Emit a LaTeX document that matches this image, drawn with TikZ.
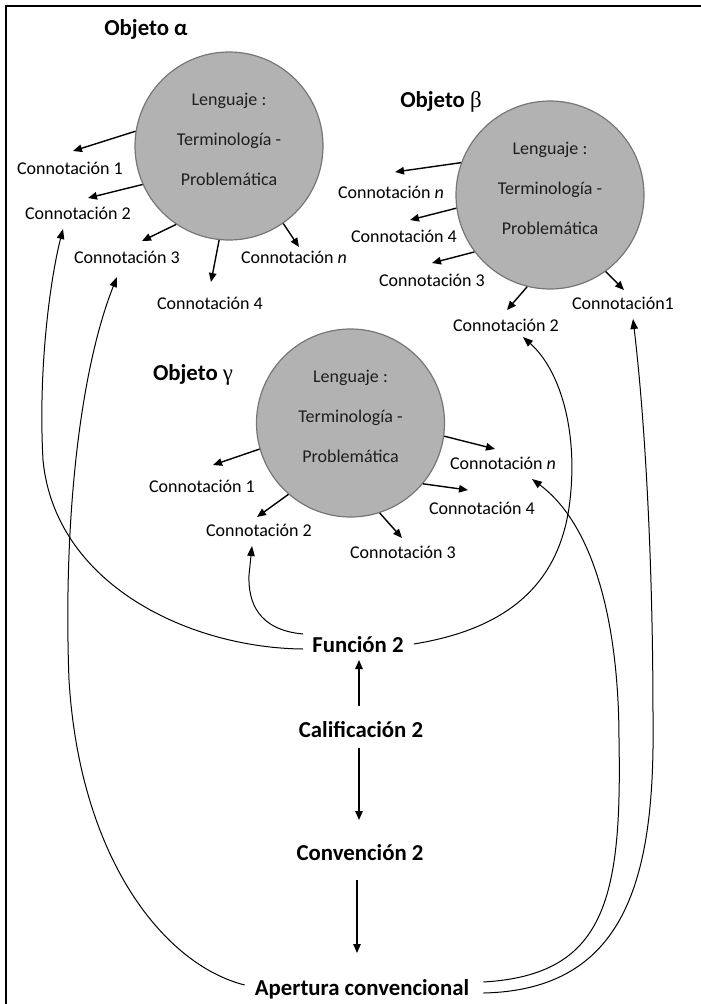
\documentclass[tikz,border=0pt]{standalone}
\usepackage{fontspec}
\setmainfont{Carlito}
\newfontfamily\greekserif{Liberation Serif}
\usetikzlibrary{arrows.meta,calc}
\definecolor{circfill}{RGB}{178,178,178}
\definecolor{circedge}{RGB}{118,118,118}
\definecolor{circtext}{RGB}{30,30,30}
\newcommand{\circtxt}{Lenguaje :\\Terminología -\\Problemática\\[-26pt]\mbox{}}
\begin{document}
\begin{tikzpicture}[x=1pt,y=-1pt,
  lbl/.style={font=\fontsize{18}{22}\selectfont, inner sep=0pt, anchor=base},
  ttl/.style={font=\fontsize{22.8}{27}\selectfont\bfseries, inner sep=0pt, anchor=base},
  obj/.style={circle, minimum size=188pt, inner sep=0pt, draw=circedge, line width=1.2pt,
    fill=circfill, text=circtext, align=center, font=\fontsize{18}{40}\selectfont},
  arr/.style={-{Triangle[length=9pt,width=7.5pt]}, line width=1.4pt},
  lng/.style={-{Triangle[length=10pt,width=7.5pt]}, line width=1pt},
  frame/.style={line width=1.5pt}
]
\useasboundingbox (0,0) rectangle (701,1004);
% frame
\coordinate (fTL) at (6,6);
\coordinate (fTR) at (701,6);
\coordinate (fBL) at (6,1004);
\draw[frame] (fTR) -- (fTL) -- (fBL);

% ---------- Objeto alpha ----------
\node[ttl] (ta) at (146,35) {Objeto α};
\node[obj] (ca) at (229,146) {\circtxt};
\node[lbl] (A1) at (70,174) {Connotación 1};
\node[lbl] (A2) at (78,219) {Connotación 2};
\node[lbl] (A3) at (127,263) {Connotación 3};
\node[lbl] (A4) at (210,309) {Connotación 4};
\node[lbl] (An) at (294,263) {Connotación \textit{n}};
\draw[arr] (ca.171.5) -- ([shift={(3,-23)}]A1.base);
\draw[arr] (ca.204.9) -- ([shift={(10,-21)}]A2.base);
\draw[arr] (ca.236.8) -- ([shift={(15,-22)}]A3.base);
\draw[arr] (ca.264.5) -- ([shift={(1,-27)}]A4.base);
\draw[arr] (ca.305.5) -- ([shift={(5,-16)}]An.base);

% ---------- Objeto beta ----------
\node[ttl] (tb) at (441,107) {Objeto {\greekserif\mdseries β}};
\node[obj] (cb) at (550,195) {\circtxt};
\node[lbl] (Bn) at (391,198) {Connotación \textit{n}};
\node[lbl] (B4) at (404,242) {Connotación 4};
\node[lbl] (B3) at (432,286) {Connotación 3};
\node[lbl] (B2) at (506,331) {Connotación 2};
\node[lbl] (B1) at (623,309) {Connotación1};
\draw[arr] (cb.160.8) -- ([shift={(4,-26)}]Bn.base);
\draw[arr] (cb.188.6) -- ([shift={(6,-22)}]B4.base);
\draw[arr] (cb.217.8) -- ([shift={(0,-23)}]B3.base);
\draw[arr] (cb.256.7) -- ([shift={(1,-21)}]B2.base);
\draw[arr] (cb.306.5) -- ([shift={(1,-19)}]B1.base);

% ---------- Objeto gamma ----------
\node[ttl] (tg) at (193,380) {Objeto {\greekserif\mdseries γ}};
\node[obj] (cg) at (350.5,423) {\circtxt};
\node[lbl] (G1) at (202,492) {Connotación 1};
\node[lbl] (G2) at (259,536) {Connotación 2};
\node[lbl] (G3) at (403,558) {Connotación 3};
\node[lbl] (G4) at (482,514) {Connotación 4};
\node[lbl] (Gn) at (503,469) {Connotación \textit{n}};
\draw[arr] (cg.196.4) -- ([shift={(11,-27)}]G1.base);
\draw[arr] (cg.229.1) -- ([shift={(-2,-19)}]G2.base);
\draw[arr] (cg.288.3) -- ([shift={(-1,-20)}]G3.base);
\draw[arr] (cg.320.8) -- ([shift={(-14,-24)}]G4.base);
\draw[arr] (cg.352.8) -- ([shift={(-8,-20)}]Gn.base);

% ---------- bottom chain ----------
\node[ttl] (fun) at (358,652) {Función 2};
\node[ttl] (cal) at (361,737) {Calificación 2};
\node[ttl] (conv) at (360,860) {Convención 2};
\node[ttl] (ape) at (362,995) {Apertura convencional};

\draw[arr, line width=1.2pt] ([shift={(-2,-31)}]cal.base) -- ([shift={(1,8)}]fun.base);
\draw[arr, line width=1.2pt] ([shift={(-2,11)}]cal.base) -- ([shift={(-1,-40)}]conv.base);
\draw[arr, line width=1.2pt] ([shift={(-3,20)}]conv.base) -- ([shift={(-5,-42)}]ape.base);

% long curves
\draw[lng] ([shift={(-9,-3)}]fun.base west) .. controls (190,648) and (55,585) .. (43,460)
  .. controls (38,370) and (50,280) .. ([shift={(-15,10)}]A2.base);
\draw[lng] ([shift={(-9,-18)}]fun.base west) .. controls (258,630) and (248,602) .. (249,575)
  -- ([shift={(-7,10)}]G2.base);
\draw[lng] ([shift={(10,-8)}]fun.base east) .. controls (500,630) and (560,590) .. (570,500)
  .. controls (578,430) and (560,370) .. ([shift={(17,6)}]B2.base);
\draw[lng] ([shift={(14,-13)}]ape.base east) .. controls (605,975) and (622,900) .. (619,740)
  .. controls (619,640) and (600,530) .. ([shift={(29,10)}]Gn.base);
\draw[lng] ([shift={(14,-2)}]ape.base east) .. controls (625,990) and (655,880) .. (653,720)
  .. controls (653,560) and (645,420) .. ([shift={(10,10)}]B1.base);
\draw[lng] ([shift={(-10,-10)}]ape.base west) .. controls (165,965) and (80,860) .. (69,680)
  .. controls (63,520) and (80,370) .. ([shift={(-10,14)}]A3.base);
\end{tikzpicture}
\end{document}
